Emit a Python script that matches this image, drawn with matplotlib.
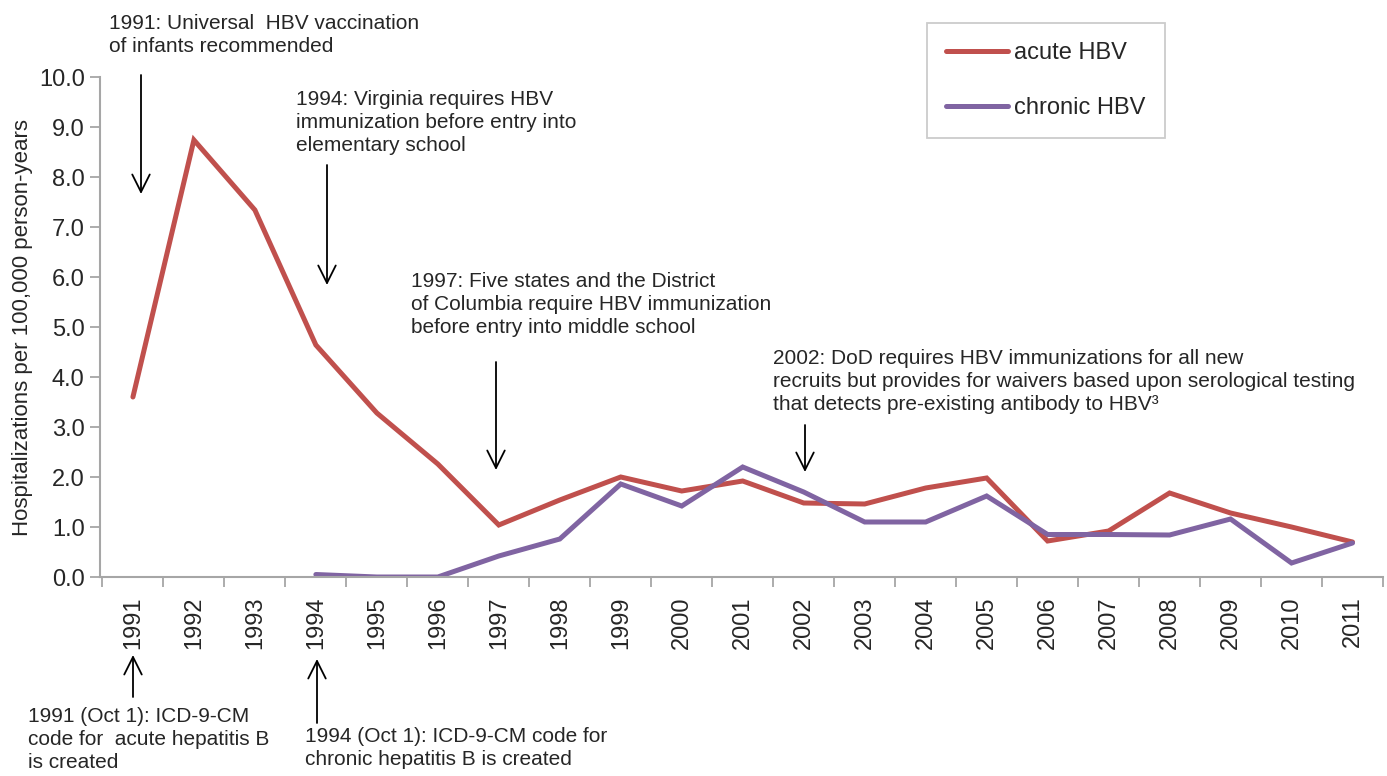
import matplotlib
matplotlib.use("Agg")
import matplotlib.pyplot as plt
import numpy as np

years = [str(y) for y in range(1991, 2012)]
acute = [3.60, 8.74, 7.34, 4.64, 3.28, 2.26, 1.04, 1.54, 2.00, 1.72, 1.92,
         1.48, 1.46, 1.78, 1.98, 0.72, 0.92, 1.68, 1.28, 1.00, 0.70]
chronic = [None, None, None, 0.05, 0.00, 0.00, 0.42, 0.76, 1.86, 1.42, 2.20,
           1.70, 1.10, 1.10, 1.62, 0.85, 0.85, 0.84, 1.16, 0.28, 0.68]
yticks = [0, 1, 2, 3, 4, 5, 6, 7, 8, 9, 10]

plt.rcParams['font.family'] = ['Liberation Sans', 'DejaVu Sans']
TXT = '#262626'
W, H = 1387, 776
fig = plt.figure(figsize=(W / 100, H / 100), dpi=100)
ax = fig.add_axes([100 / W, 1 - 577 / H, (1383 - 100) / W, (577 - 77) / H])

x = np.arange(len(years))
ch = np.array([np.nan if v is None else v for v in chronic], dtype=float)
ax.plot(x, acute, color='#C0504D', lw=3.6, solid_capstyle='round', solid_joinstyle='miter', label='acute HBV')
ax.plot(x, ch, color='#8064A2', lw=3.6, solid_capstyle='round', solid_joinstyle='miter', label='chronic HBV')

ax.set_xlim(-0.54, len(years) - 0.5)
ax.set_ylim(0, 10)
ax.set_yticks(yticks)
ax.set_yticklabels([f"{v:.1f}" for v in yticks], fontsize=17, color=TXT)
ax.set_xticks(x)
ax.set_xticklabels(years, rotation=90, fontsize=17, color=TXT)
ax.set_xticks(np.arange(-0.5, len(years), 1), minor=True)
ax.tick_params(axis='x', which='major', length=0, pad=14)
ax.tick_params(axis='x', which='minor', length=7, color='#A6A6A6', width=1.3)
ax.tick_params(axis='y', length=7, color='#A6A6A6', width=1.3, pad=4)
for s in ['top', 'right']:
    ax.spines[s].set_visible(False)
for s in ['left', 'bottom']:
    ax.spines[s].set_color('#A6A6A6')
    ax.spines[s].set_linewidth(1.5)
ax.set_ylabel('Hospitalizations per 100,000 person-years', fontsize=16, color=TXT, labelpad=4)

leg = fig.legend(loc='upper left', bbox_to_anchor=(927 / W, 1 - 23 / H), fontsize=17,
                 frameon=True, fancybox=False, edgecolor='#BFBFBF', borderpad=0.8,
                 labelspacing=1.4, handlelength=2.65, handletextpad=0.25, borderaxespad=0)
leg.get_frame().set_linewidth(1.3)
for t in leg.get_texts():
    t.set_color(TXT)

def ftext(px, py, s):
    fig.text(px / W, 1 - py / H, s, fontsize=15, color=TXT, va='top', ha='left', linespacing=1.28)

def farrow(px, y_tail, y_head):
    fig.add_artist(matplotlib.patches.FancyArrowPatch(
        (px / W, 1 - y_tail / H), (px / W, 1 - y_head / H), transform=fig.transFigure,
        arrowstyle='->,head_length=0.9,head_width=0.45', color='black', lw=1.3,
        shrinkA=0, shrinkB=0, mutation_scale=14))

ftext(109, 14, '1991: Universal  HBV vaccination\nof infants recommended')
farrow(141, 75, 194)
ftext(296, 90, '1994: Virginia requires HBV\nimmunization before entry into\nelementary school')
farrow(327, 165, 285)
ftext(411, 272, '1997: Five states and the District\nof Columbia require HBV immunization\nbefore entry into middle school')
farrow(496, 362, 470)
ftext(773, 349, '2002: DoD requires HBV immunizations for all new\nrecruits but provides for waivers based upon serological testing\nthat detects pre-existing antibody to HBV³')
farrow(805, 425, 472)
farrow(133, 697, 655)
ftext(28, 707, '1991 (Oct 1): ICD-9-CM\ncode for  acute hepatitis B\nis created')
farrow(317, 723, 659)
ftext(305, 727, '1994 (Oct 1): ICD-9-CM code for\nchronic hepatitis B is created')

fig.savefig('out.png', dpi=100)
